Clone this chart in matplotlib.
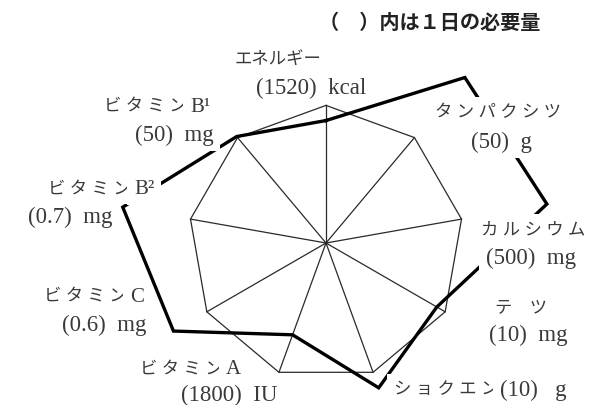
import matplotlib
matplotlib.use('Agg')
import matplotlib.pyplot as plt
import numpy as np

# axes of the chart, clockwise from the top
nutrients = ['エネルギー', 'タンパクシツ', 'カルシウム', 'テツ', 'ショクエン',
             'ビタミンA', 'ビタミンC', 'ビタミンB²', 'ビタミンB¹']
requirements = ['(1520)  kcal', '(50)  g', '(500)  mg', '(10)  mg', '(10)   g',
                '(1800)  IU', '(0.6)  mg', '(0.7)  mg', '(50)  mg']
# intake as % of the daily requirement (outer nonagon = 100%)
intake_pct = [89, 157, 163, 93, 112, 71, 128, 150, 101]

W, H = 592, 406
CX, CY, R1 = 326, 244, 137.6   # centre and radius of the 100% ring in pixels
RMAX = 1.8

fam = ['Liberation Serif', 'Noto Sans CJK JP']
txt_color = '#3a3a3a'
KANA_FS = 12.5
LATIN_FS = 16.5

fig = plt.figure(figsize=(W / 100, H / 100), dpi=100)
size = 2 * R1 * RMAX
ax = fig.add_axes([(CX - size / 2) / W, (H - CY - size / 2) / H, size / W, size / H],
                  projection='polar')
ax.set_theta_offset(np.pi / 2)
ax.set_theta_direction(-1)
ax.set_ylim(0, RMAX)
ax.axis('off')

n = len(nutrients)
theta = np.arange(n) * 2 * np.pi / n
ring = np.ones(n + 1)
ax.plot(np.append(theta, theta[0]), ring, color='#2a2a2a', lw=0.9, clip_on=False)
for t in theta:
    ax.plot([t, t], [0, 1], color='#2a2a2a', lw=0.9)

vals = np.array(intake_pct) / 100
ax.plot(np.append(theta, theta[0]), np.append(vals, vals[0]),
        color='black', lw=2.4, clip_on=False, solid_joinstyle='miter')


def px(x, y):
    return x / W, 1 - y / H


def split_kana(s):
    # katakana part and trailing latin part (e.g. 'ビタミン', 'B¹')
    i = len(s)
    while i > 0 and ord(s[i - 1]) < 0x3000:
        i -= 1
    return s[:i], s[i:]


# labels sit on white, so the thick line disappears behind them
box = dict(facecolor='white', edgecolor='none', pad=5)


def put(x, y, s, fs, ha='center'):
    fig.text(*px(x, y), s, family=fam, fontsize=fs, color=txt_color,
             ha=ha, va='center', bbox=box)


# name label: centre, or for split labels the x where the latin part starts
name_pos = [(278, 60), (498, 113), (533, 230), (521, 308), (500, 390),
            (226, 370), (130, 297), (134, 190), (190, 107)]
req_pos = [(311, 88), (501, 142), (531, 258), (528, 335), (500, 390),
           (229, 395), (104, 325), (70, 217), (174, 135)]

for name, req, (nx, ny), (rx, ry) in zip(nutrients, requirements, name_pos, req_pos):
    kana, latin = split_kana(name)
    if name == 'エネルギー':
        put(nx, ny, kana, KANA_FS)
    elif name == 'テツ':
        put(nx, ny, '　'.join(kana), KANA_FS)
    elif latin:
        put(nx - 3, ny, ' '.join(kana), KANA_FS, ha='right')
        put(nx, ny, latin, LATIN_FS - 1.5, ha='left')
    elif name == 'ショクエン':
        put(nx - 2, ny, ' '.join(kana), KANA_FS, ha='right')
    else:
        put(nx, ny, ' '.join(kana), KANA_FS)
    if name == 'ショクエン':
        put(rx, ry, req, LATIN_FS, ha='left')
    else:
        put(rx, ry, req, LATIN_FS)

fig.text(*px(430, 22), '（　）内は１日の必要量', family=['Noto Sans CJK JP'],
         fontsize=14.5, fontweight='bold', color='#222222', ha='center', va='center')

fig.savefig('out.png', dpi=100)
